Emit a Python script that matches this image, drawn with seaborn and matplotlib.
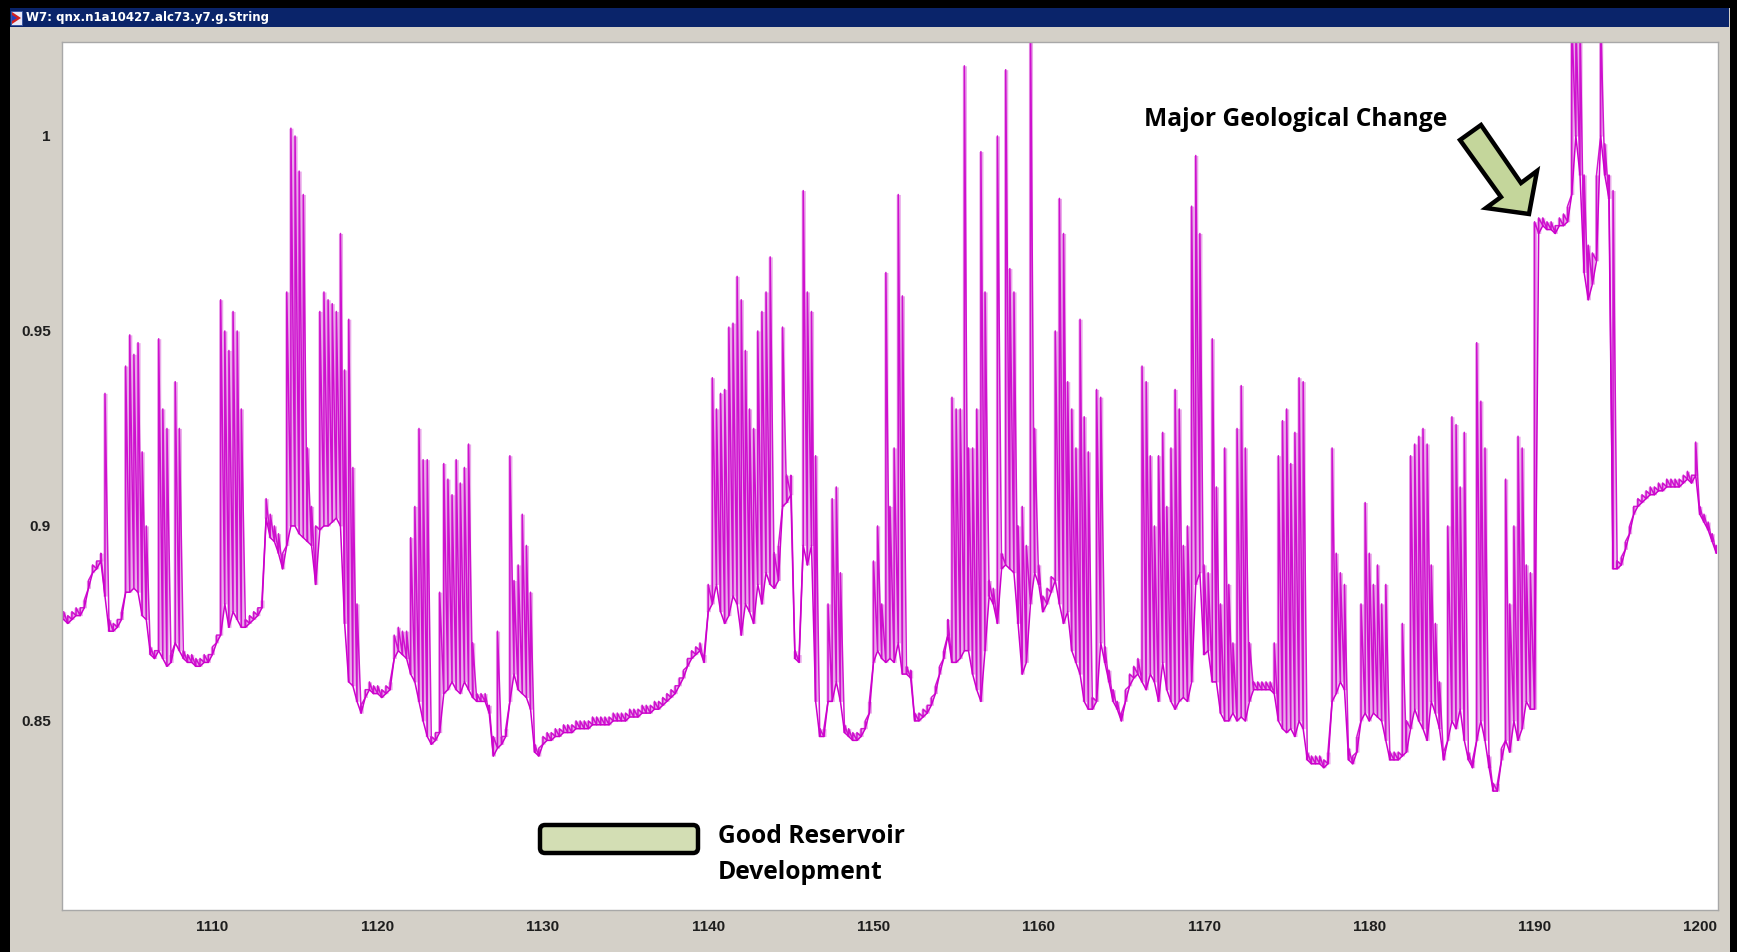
import numpy as np
import pandas as pd
import matplotlib
matplotlib.use("Agg")
import matplotlib.pyplot as plt
import seaborn as sns
from matplotlib.patches import Rectangle, Polygon, FancyBboxPatch

# ---------------- data ----------------
# depth sampled every 0.25 from 1101 to 1201
depth = np.round(np.arange(1101.0, 1201.0 + 1e-9, 0.25), 2)

# lower envelope of the trace at each depth sample
lo = np.array([
    0.876, 0.875, 0.876, 0.877,   # 1101
    0.877, 0.879, 0.884, 0.888,   # 1102
    0.889, 0.891, 0.882, 0.873,   # 1103
    0.873, 0.874, 0.876, 0.883,   # 1104
    0.883, 0.884, 0.883, 0.877,   # 1105
    0.876, 0.867, 0.866, 0.868,   # 1106
    0.866, 0.864, 0.865, 0.870,   # 1107
    0.868, 0.866, 0.865, 0.865,   # 1108
    0.864, 0.864, 0.865, 0.865,   # 1109
    0.867, 0.870, 0.872, 0.880,   # 1110
    0.874, 0.878, 0.876, 0.874,   # 1111
    0.874, 0.875, 0.876, 0.877,   # 1112
    0.879, 0.902, 0.897, 0.896,   # 1113
    0.893, 0.889, 0.895, 0.900,   # 1114
    0.900, 0.898, 0.897, 0.896,   # 1115
    0.895, 0.885, 0.899, 0.900,   # 1116
    0.900, 0.901, 0.902, 0.900,   # 1117
    0.875, 0.860, 0.859, 0.855,   # 1118
    0.852, 0.856, 0.858, 0.857,   # 1119
    0.857, 0.856, 0.857, 0.858,   # 1120
    0.866, 0.868, 0.867, 0.866,   # 1121
    0.862, 0.860, 0.855, 0.850,   # 1122
    0.846, 0.844, 0.845, 0.847,   # 1123
    0.857, 0.858, 0.860, 0.858,   # 1124
    0.857, 0.860, 0.858, 0.856,   # 1125
    0.855, 0.855, 0.855, 0.852,   # 1126
    0.841, 0.843, 0.844, 0.846,   # 1127
    0.855, 0.862, 0.858, 0.857,   # 1128
    0.856, 0.853, 0.842, 0.841,   # 1129
    0.844, 0.845, 0.845, 0.846,   # 1130
    0.846, 0.847, 0.847, 0.847,   # 1131
    0.848, 0.848, 0.848, 0.848,   # 1132
    0.849, 0.849, 0.849, 0.849,   # 1133
    0.849, 0.850, 0.850, 0.850,   # 1134
    0.850, 0.851, 0.851, 0.851,   # 1135
    0.852, 0.852, 0.852, 0.853,   # 1136
    0.853, 0.854, 0.855, 0.856,   # 1137
    0.857, 0.859, 0.861, 0.864,   # 1138
    0.866, 0.867, 0.868, 0.865,   # 1139
    0.878, 0.880, 0.885, 0.878,   # 1140
    0.875, 0.877, 0.882, 0.880,   # 1141
    0.872, 0.880, 0.878, 0.875,   # 1142
    0.885, 0.880, 0.888, 0.885,   # 1143
    0.884, 0.886, 0.905, 0.906,   # 1144
    0.908, 0.866, 0.865, 0.895,   # 1145
    0.890, 0.895, 0.855, 0.846,   # 1146
    0.846, 0.855, 0.855, 0.860,   # 1147
    0.855, 0.847, 0.846, 0.845,   # 1148
    0.845, 0.846, 0.848, 0.852,   # 1149
    0.865, 0.868, 0.866, 0.865,   # 1150
    0.866, 0.865, 0.870, 0.862,   # 1151
    0.862, 0.861, 0.850, 0.850,   # 1152
    0.851, 0.852, 0.854, 0.857,   # 1153
    0.862, 0.866, 0.872, 0.865,   # 1154
    0.865, 0.866, 0.868, 0.868,   # 1155
    0.862, 0.858, 0.855, 0.868,   # 1156
    0.882, 0.880, 0.875, 0.889,   # 1157
    0.890, 0.889, 0.888, 0.875,   # 1158
    0.862, 0.865, 0.880, 0.888,   # 1159
    0.885, 0.878, 0.880, 0.883,   # 1160
    0.886, 0.880, 0.875, 0.878,   # 1161
    0.868, 0.865, 0.862, 0.855,   # 1162
    0.853, 0.853, 0.855, 0.870,   # 1163
    0.865, 0.860, 0.855, 0.853,   # 1164
    0.850, 0.855, 0.859, 0.861,   # 1165
    0.862, 0.860, 0.858, 0.862,   # 1166
    0.860, 0.855, 0.865, 0.858,   # 1167
    0.855, 0.853, 0.855, 0.856,   # 1168
    0.855, 0.860, 0.885, 0.888,   # 1169
    0.867, 0.868, 0.860, 0.860,   # 1170
    0.852, 0.850, 0.850, 0.852,   # 1171
    0.850, 0.851, 0.850, 0.855,   # 1172
    0.858, 0.858, 0.858, 0.858,   # 1173
    0.858, 0.857, 0.850, 0.848,   # 1174
    0.847, 0.848, 0.846, 0.850,   # 1175
    0.848, 0.840, 0.839, 0.839,   # 1176
    0.839, 0.838, 0.839, 0.855,   # 1177
    0.857, 0.860, 0.858, 0.840,   # 1178
    0.839, 0.842, 0.850, 0.852,   # 1179
    0.850, 0.852, 0.851, 0.850,   # 1180
    0.845, 0.840, 0.840, 0.840,   # 1181
    0.841, 0.842, 0.848, 0.853,   # 1182
    0.850, 0.848, 0.845, 0.855,   # 1183
    0.852, 0.848, 0.840, 0.845,   # 1184
    0.850, 0.848, 0.853, 0.845,   # 1185
    0.840, 0.838, 0.845, 0.850,   # 1186
    0.845, 0.838, 0.832, 0.832,   # 1187
    0.840, 0.845, 0.842, 0.850,   # 1188
    0.845, 0.848, 0.855, 0.853,   # 1189
    0.853, 0.975, 0.977, 0.976,   # 1190
    0.976, 0.975, 0.977, 0.977,   # 1191
    0.978, 0.985, 1.000, 0.990,   # 1192
    0.965, 0.958, 0.962, 0.968,   # 1193
    1.000, 0.990, 0.984, 0.889,   # 1194
    0.889, 0.890, 0.894, 0.898,   # 1195
    0.903, 0.905, 0.906, 0.907,   # 1196
    0.908, 0.908, 0.909, 0.909,   # 1197
    0.910, 0.910, 0.910, 0.910,   # 1198
    0.911, 0.912, 0.911, 0.913,   # 1199
    0.903, 0.901, 0.899, 0.896,   # 1200
    0.893,                        # 1201
])

# upper envelope (spike tops) at each depth sample
hi = np.array([
    0.878, 0.877, 0.878, 0.879,   # 1101
    0.879, 0.881, 0.886, 0.890,   # 1102
    0.891, 0.893, 0.934, 0.876,   # 1103
    0.875, 0.876, 0.878, 0.941,   # 1104
    0.949, 0.944, 0.947, 0.919,   # 1105
    0.900, 0.869, 0.868, 0.948,   # 1106
    0.930, 0.925, 0.867, 0.937,   # 1107
    0.925, 0.868, 0.867, 0.867,   # 1108
    0.866, 0.866, 0.867, 0.867,   # 1109
    0.869, 0.872, 0.958, 0.950,   # 1110
    0.945, 0.955, 0.950, 0.930,   # 1111
    0.876, 0.877, 0.878, 0.879,   # 1112
    0.881, 0.907, 0.903, 0.900,   # 1113
    0.898, 0.893, 0.960, 1.002,   # 1114
    1.000, 0.991, 0.985, 0.920,   # 1115
    0.905, 0.900, 0.955, 0.960,   # 1116
    0.958, 0.957, 0.955, 0.975,   # 1117
    0.940, 0.953, 0.915, 0.880,   # 1118
    0.854, 0.858, 0.860, 0.859,   # 1119
    0.859, 0.858, 0.859, 0.860,   # 1120
    0.872, 0.874, 0.873, 0.873,   # 1121
    0.897, 0.905, 0.925, 0.917,   # 1122
    0.917, 0.846, 0.847, 0.883,   # 1123
    0.916, 0.912, 0.908, 0.917,   # 1124
    0.911, 0.915, 0.921, 0.870,   # 1125
    0.857, 0.857, 0.857, 0.854,   # 1126
    0.846, 0.873, 0.846, 0.848,   # 1127
    0.918, 0.886, 0.890, 0.903,   # 1128
    0.895, 0.883, 0.844, 0.843,   # 1129
    0.846, 0.847, 0.847, 0.848,   # 1130
    0.848, 0.849, 0.849, 0.849,   # 1131
    0.850, 0.850, 0.850, 0.850,   # 1132
    0.851, 0.851, 0.851, 0.851,   # 1133
    0.851, 0.852, 0.852, 0.852,   # 1134
    0.852, 0.853, 0.853, 0.853,   # 1135
    0.854, 0.854, 0.854, 0.855,   # 1136
    0.855, 0.856, 0.857, 0.858,   # 1137
    0.859, 0.861, 0.863, 0.866,   # 1138
    0.868, 0.869, 0.870, 0.867,   # 1139
    0.885, 0.938, 0.930, 0.934,   # 1140
    0.935, 0.951, 0.952, 0.964,   # 1141
    0.958, 0.945, 0.930, 0.925,   # 1142
    0.950, 0.955, 0.960, 0.969,   # 1143
    0.893, 0.895, 0.951, 0.913,   # 1144
    0.913, 0.868, 0.867, 0.986,   # 1145
    0.960, 0.955, 0.918, 0.848,   # 1146
    0.848, 0.880, 0.907, 0.910,   # 1147
    0.888, 0.849, 0.848, 0.847,   # 1148
    0.847, 0.848, 0.850, 0.855,   # 1149
    0.891, 0.900, 0.880, 0.965,   # 1150
    0.905, 0.920, 0.985, 0.959,   # 1151
    0.864, 0.863, 0.852, 0.852,   # 1152
    0.853, 0.854, 0.856, 0.859,   # 1153
    0.864, 0.868, 0.876, 0.933,   # 1154
    0.930, 0.930, 1.018, 0.920,   # 1155
    0.920, 0.930, 0.996, 0.960,   # 1156
    0.886, 0.884, 1.000, 0.893,   # 1157
    1.017, 0.966, 0.960, 0.900,   # 1158
    0.905, 0.895, 1.030, 0.925,   # 1159
    0.890, 0.882, 0.884, 0.887,   # 1160
    0.950, 0.984, 0.975, 0.937,   # 1161
    0.930, 0.920, 0.953, 0.928,   # 1162
    0.919, 0.856, 0.935, 0.933,   # 1163
    0.869, 0.863, 0.858, 0.855,   # 1164
    0.852, 0.858, 0.862, 0.864,   # 1165
    0.866, 0.941, 0.937, 0.918,   # 1166
    0.900, 0.918, 0.924, 0.905,   # 1167
    0.920, 0.935, 0.930, 0.895,   # 1168
    0.900, 0.982, 0.995, 0.975,   # 1169
    0.890, 0.888, 0.948, 0.910,   # 1170
    0.880, 0.920, 0.885, 0.870,   # 1171
    0.925, 0.936, 0.920, 0.870,   # 1172
    0.860, 0.860, 0.860, 0.860,   # 1173
    0.860, 0.870, 0.918, 0.927,   # 1174
    0.930, 0.916, 0.924, 0.938,   # 1175
    0.937, 0.842, 0.841, 0.841,   # 1176
    0.841, 0.840, 0.842, 0.920,   # 1177
    0.893, 0.888, 0.885, 0.843,   # 1178
    0.841, 0.846, 0.880, 0.906,   # 1179
    0.893, 0.885, 0.890, 0.880,   # 1180
    0.885, 0.842, 0.842, 0.842,   # 1181
    0.875, 0.850, 0.918, 0.921,   # 1182
    0.923, 0.925, 0.921, 0.890,   # 1183
    0.875, 0.860, 0.842, 0.900,   # 1184
    0.928, 0.926, 0.910, 0.924,   # 1185
    0.842, 0.840, 0.947, 0.932,   # 1186
    0.920, 0.841, 0.834, 0.834,   # 1187
    0.843, 0.912, 0.880, 0.900,   # 1188
    0.923, 0.920, 0.890, 0.888,   # 1189
    0.978, 0.979, 0.979, 0.978,   # 1190
    0.978, 0.977, 0.979, 0.980,   # 1191
    0.982, 1.030, 1.030, 1.030,   # 1192
    0.990, 0.972, 0.970, 0.990,   # 1193
    1.030, 0.998, 0.990, 0.986,   # 1194
    0.891, 0.892, 0.896, 0.900,   # 1195
    0.905, 0.907, 0.908, 0.909,   # 1196
    0.910, 0.910, 0.911, 0.911,   # 1197
    0.912, 0.912, 0.912, 0.912,   # 1198
    0.913, 0.914, 0.913, 0.9215,  # 1199
    0.905, 0.903, 0.901, 0.898,   # 1200
    0.895,                        # 1201
])

x_ticks = [1110, 1120, 1130, 1140, 1150, 1160, 1170, 1180, 1190, 1200]
y_ticks = [0.85, 0.90, 0.95, 1.00]
y_tick_labels = ["0.85", "0.9", "0.95", "1"]
x_range = (1100.9, 1201.1)
y_range = (0.8015, 1.0241)

window_title = "W7: qnx.n1a10427.alc73.y7.g.String"
change_label = "Major Geological Change"
legend_label = ["Good Reservoir", "Development"]

# ---------------- styling ----------------
sns.set_theme(style="white")
plt.rcParams["font.family"] = ["Liberation Sans", "DejaVu Sans"]

W, H = 1737, 952
fig = plt.figure(figsize=(W / 100, H / 100), dpi=100)
fig.patch.set_facecolor("#d4d0c8")


def fx(px):
    return px / W


def fy(py):
    return 1 - py / H


# window frame
for (x0, y0, x1, y1, c) in [
    (0, 0, 10, H, "black"),
    (0, 0, W, 8, "black"),
    (1730, 0, W, H, "black"),
    (10, 8, 1729, 27, "#0a246a"),
]:
    fig.add_artist(Rectangle((fx(x0), fy(y1)), fx(x1) - fx(x0), fy(y0) - fy(y1),
                             transform=fig.transFigure, facecolor=c, edgecolor="none", zorder=0))

# small window icon
fig.add_artist(Rectangle((fx(11), fy(25)), fx(11), fy(11) - fy(25), transform=fig.transFigure,
                         facecolor="#e8e8f8", edgecolor="#3050a0", lw=0.6, zorder=1))
fig.add_artist(Polygon([(fx(12), fy(12)), (fx(21), fy(18)), (fx(12), fy(24))], closed=True,
                       transform=fig.transFigure, facecolor="#d02020", edgecolor="none", zorder=2))
fig.add_artist(Polygon([(fx(12), fy(15)), (fx(17), fy(18)), (fx(12), fy(21))], closed=True,
                       transform=fig.transFigure, facecolor="#2040c0", edgecolor="none", zorder=3))

fig.text(fx(26), fy(17.5), window_title, color="white", fontsize=8.5, fontweight="bold",
         va="center", ha="left", family="DejaVu Sans")

# plot area
ax = fig.add_axes([fx(62), fy(910), fx(1718) - fx(62), fy(42) - fy(910)])
ax.set_facecolor("white")

# light band covering the dense min-max spread of the trace
ax.fill_between(depth, lo, hi, step="mid", color="#d040d0", alpha=0.45, lw=0, zorder=1)

trace = pd.DataFrame({
    "depth": np.repeat(depth, 2),
    "value": np.column_stack([lo, hi]).ravel(),
})
sns.lineplot(data=trace, x="depth", y="value", sort=False, estimator=None,
             color="#cc00cc", lw=1.1, alpha=0.9, ax=ax, zorder=2)
sns.lineplot(x=depth, y=lo, sort=False, estimator=None, color="#cc00cc", lw=1.1, ax=ax, zorder=3)

ax.set_xlim(*x_range)
ax.set_ylim(*y_range)
ax.set_xticks(x_ticks)
ax.set_xticklabels([str(t) for t in x_ticks])
ax.set_yticks(y_ticks)
ax.set_yticklabels(y_tick_labels)
ax.set_xlabel("")
ax.set_ylabel("")
ax.tick_params(axis="both", which="both", direction="out", length=3, width=1,
               color="#808080", labelcolor="#1e1e1e", labelsize=11)
ax.tick_params(axis="x", pad=4)
ax.tick_params(axis="y", pad=5)
for lab in ax.get_xticklabels() + ax.get_yticklabels():
    lab.set_fontweight("bold")
for s in ax.spines.values():
    s.set_color("#a8a8a8")
    s.set_linewidth(1.0)

# annotations (in inch coordinates, i.e. pixels / 100)
inch = fig.dpi_scale_trans


def pin(px, py):
    return (px / 100.0, (H - py) / 100.0)


arrow_px = [(1460, 140), (1481, 125), (1521, 183), (1537, 171),
            (1529, 214), (1486, 208), (1501, 197)]
fig.add_artist(Polygon([pin(*p) for p in arrow_px], closed=True, transform=inch,
                       facecolor="#c4d69b", edgecolor="black", lw=3.2, joinstyle="miter", zorder=10))

note_font = ["Open Sans", "DejaVu Sans"]
fig.text(fx(1144), fy(126), change_label, fontsize=17.7, fontweight="bold", color="black",
         family=note_font, ha="left", va="baseline", zorder=10)

bx0, by0 = pin(540, 853)
fig.add_artist(FancyBboxPatch((bx0, by0), 1.58, 0.28,
                              boxstyle="round,pad=0,rounding_size=0.05", transform=inch,
                              facecolor="#d3deb4", edgecolor="black", lw=3.2, zorder=10))
fig.text(fx(718), fy(843), legend_label[0], fontsize=17.7, fontweight="bold", color="black",
         family=note_font, ha="left", va="baseline", zorder=10)
fig.text(fx(718), fy(879), legend_label[1], fontsize=17.7, fontweight="bold", color="black",
         family=note_font, ha="left", va="baseline", zorder=10)

fig.savefig("out.png", dpi=100, facecolor=fig.get_facecolor())
